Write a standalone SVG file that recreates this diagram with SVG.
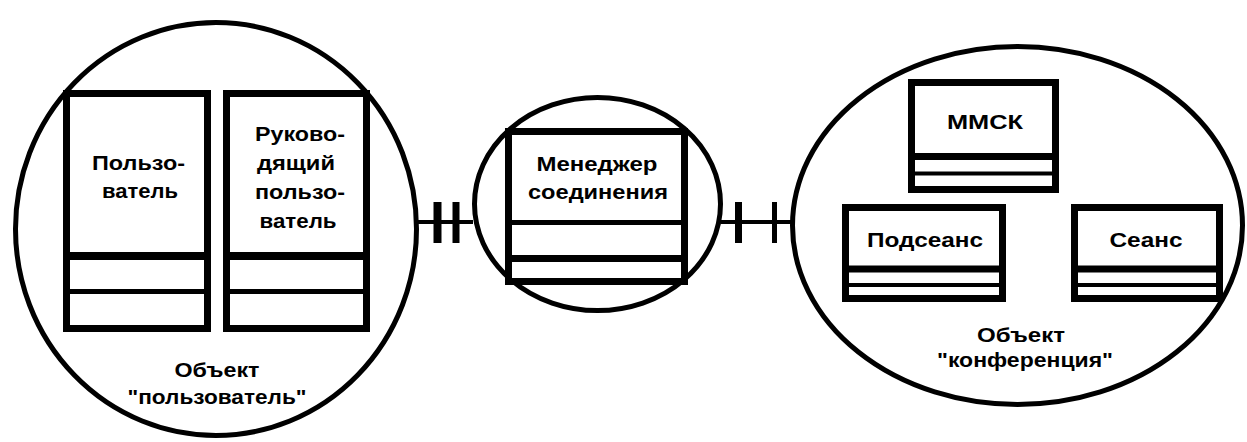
<svg xmlns="http://www.w3.org/2000/svg" width="1247" height="442" viewBox="0 0 1247 442">
<style>
.bg{fill:#fff}
.oval{fill:none;stroke:#000;stroke-width:5}
.box{fill:#fff;stroke:#000;stroke-width:7}
.d{stroke:#000}
.t{font-family:"Liberation Sans",Arial,sans-serif;font-size:20px;font-weight:bold;fill:#000;text-anchor:middle}
.c{stroke:#000;fill:none}
</style>
<rect class="bg" x="0" y="0" width="1247" height="442"/>
<g id="obj-user">
<ellipse class="oval" cx="216" cy="229" rx="200.5" ry="206.5"/>
<text class="t" x="217" y="377" textLength="85" lengthAdjust="spacingAndGlyphs">Объект</text>
<text class="t" x="217" y="404" textLength="179" lengthAdjust="spacingAndGlyphs">"пользователь"</text>
</g>
<g id="user">
<rect class="box" x="66.5" y="93.5" width="141" height="235"/>
<line class="d" x1="66" y1="256" x2="208" y2="256" stroke-width="8"/>
<line class="d" x1="66" y1="291.5" x2="208" y2="291.5" stroke-width="5"/>
<text class="t" x="138.5" y="170" textLength="93" lengthAdjust="spacingAndGlyphs">Пользо-</text>
<text class="t" x="140" y="198" textLength="76" lengthAdjust="spacingAndGlyphs">ватель</text>
</g>
<g id="chair">
<rect class="box" x="226.5" y="93.5" width="140" height="235"/>
<line class="d" x1="226" y1="256" x2="367" y2="256" stroke-width="8"/>
<line class="d" x1="226" y1="291.5" x2="367" y2="291.5" stroke-width="5"/>
<text class="t" x="300" y="141" textLength="90" lengthAdjust="spacingAndGlyphs">Руково-</text>
<text class="t" x="296" y="170" textLength="78" lengthAdjust="spacingAndGlyphs">дящий</text>
<text class="t" x="300" y="199" textLength="90" lengthAdjust="spacingAndGlyphs">пользо-</text>
<text class="t" x="298" y="228" textLength="77" lengthAdjust="spacingAndGlyphs">ватель</text>
</g>
<g id="conn-mgr">
<ellipse class="oval" cx="597.5" cy="204" rx="123" ry="106.5"/>
<rect class="box" x="508.5" y="131.5" width="176" height="150"/>
<line class="d" x1="508" y1="222.5" x2="685" y2="222.5" stroke-width="5"/>
<line class="d" x1="508" y1="258.5" x2="685" y2="258.5" stroke-width="7"/>
<text class="t" x="597" y="171" textLength="121" lengthAdjust="spacingAndGlyphs">Менеджер</text>
<text class="t" x="598" y="199" textLength="140" lengthAdjust="spacingAndGlyphs">соединения</text>
</g>
<g id="obj-conf">
<ellipse class="oval" cx="1017.5" cy="225.5" rx="225" ry="179"/>
<text class="t" x="1021" y="342" textLength="88" lengthAdjust="spacingAndGlyphs">Объект</text>
<text class="t" x="1025" y="367" textLength="176" lengthAdjust="spacingAndGlyphs">"конференция"</text>
</g>
<g id="mmsk">
<rect class="box" x="911.5" y="82.5" width="144" height="107"/>
<line class="d" x1="911" y1="156.5" x2="1056" y2="156.5" stroke-width="7"/>
<line class="d" x1="911" y1="173.5" x2="1056" y2="173.5" stroke-width="4"/>
<text class="t" x="985" y="129" textLength="76" lengthAdjust="spacingAndGlyphs">ММСК</text>
</g>
<g id="subsession">
<rect class="box" x="845.5" y="207.5" width="157" height="91"/>
<line class="d" x1="845" y1="269" x2="1003" y2="269" stroke-width="7"/>
<line class="d" x1="845" y1="285" x2="1003" y2="285" stroke-width="4"/>
<text class="t" x="925" y="247" textLength="116" lengthAdjust="spacingAndGlyphs">Подсеанс</text>
</g>
<g id="session">
<rect class="box" x="1074.5" y="207.5" width="145" height="91"/>
<line class="d" x1="1074" y1="269" x2="1220" y2="269" stroke-width="7"/>
<line class="d" x1="1074" y1="285" x2="1220" y2="285" stroke-width="4"/>
<text class="t" x="1146" y="247" textLength="73" lengthAdjust="spacingAndGlyphs">Сеанс</text>
</g>
<g id="connectors">
<line class="c" x1="417" y1="222" x2="473" y2="222" stroke-width="4"/>
<line class="c" x1="437.5" y1="202" x2="437.5" y2="243" stroke-width="8"/>
<line class="c" x1="456" y1="202" x2="456" y2="243" stroke-width="7"/>
<line class="c" x1="721" y1="222" x2="793" y2="222" stroke-width="4"/>
<line class="c" x1="738.5" y1="202" x2="738.5" y2="243" stroke-width="7"/>
<line class="c" x1="774.5" y1="202" x2="774.5" y2="243" stroke-width="5"/>
</g>
</svg>
